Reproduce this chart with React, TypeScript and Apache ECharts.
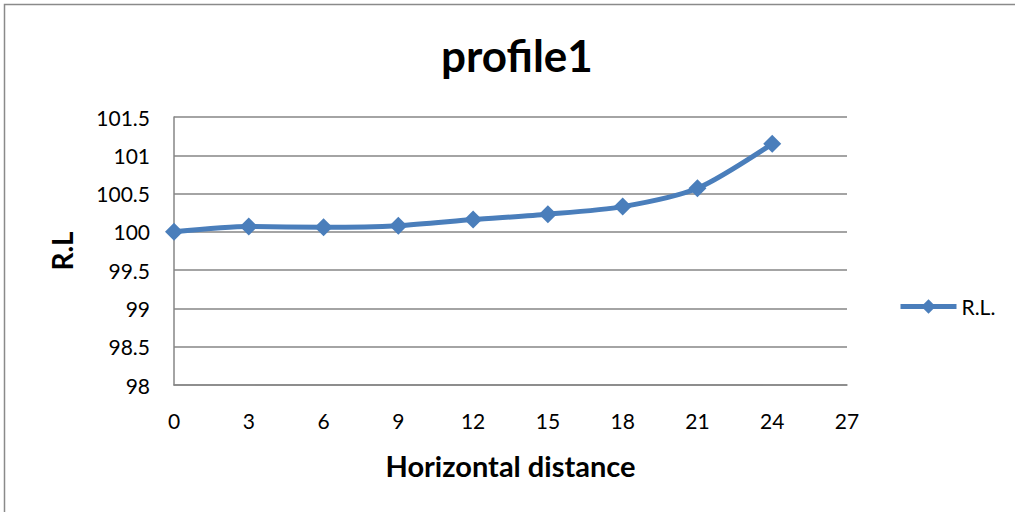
import React, { useEffect, useRef } from "react";
import * as echarts from "echarts";

const distances = [0, 3, 6, 9, 12, 15, 18, 21, 24];
const rlValues = [100.0, 100.07, 100.06, 100.08, 100.16, 100.23, 100.33, 100.57, 101.15];
const seriesName = "R.L.";
const titleText = "profile1";
const xName = "Horizontal distance";
const yName = "R.L";

export default function App() {
  const ref = useRef<HTMLDivElement>(null);
  useEffect(() => {
    if (!ref.current) return;
    const chart = echarts.init(ref.current, null, { renderer: "svg" });
    const font = "Lato, 'Open Sans', sans-serif";
    chart.setOption({
      animation: false,
      backgroundColor: "#ffffff",
      textStyle: { fontFamily: font },
      title: {
        text: titleText,
        left: 436,
        top: 28,
        textStyle: { fontSize: 44, fontWeight: "bold", color: "#000", fontFamily: font },
      },
      graphic: [
        {
          type: "rect",
          shape: { x: 4.5, y: 4.5, width: 1030, height: 530 },
          style: { fill: "none", stroke: "#8a8a8a", lineWidth: 1.5 },
          silent: true,
        },
      ],
      legend: {
        data: [seriesName],
        left: 893,
        top: 291,
        itemWidth: 56,
        itemHeight: 18,
        itemGap: 6,
        lineStyle: { width: 5 },
        textStyle: { fontSize: 21, color: "#000", fontFamily: font },
      },
      grid: { left: 174, right: 168, top: 117, bottom: 127 },
      xAxis: {
        type: "value",
        min: 0,
        max: 27,
        interval: 3,
        name: xName,
        nameLocation: "middle",
        nameGap: 66,
        nameTextStyle: { fontSize: 29, fontWeight: "bold", color: "#000", fontFamily: font },
        axisLine: { show: true, lineStyle: { color: "#868686", width: 1.5 } },
        axisTick: { show: false },
        splitLine: { show: false },
        axisLabel: { fontSize: 21, color: "#000", margin: 25, fontFamily: font },
      },
      yAxis: {
        type: "value",
        min: 98,
        max: 101.5,
        interval: 0.5,
        name: yName,
        nameLocation: "middle",
        nameGap: 98,
        nameRotate: 90,
        nameTextStyle: { fontSize: 28, fontWeight: "bold", color: "#000", fontFamily: font },
        axisLine: { show: true, lineStyle: { color: "#868686", width: 1.5 } },
        axisTick: { show: false },
        splitLine: { show: true, lineStyle: { color: "#868686", width: 1.5 } },
        axisLabel: { fontSize: 21, color: "#000", margin: 24, fontFamily: font },
      },
      series: [
        {
          name: seriesName,
          type: "line",
          data: distances.map((d, i) => [d, rlValues[i]]),
          smooth: 0.25,
          symbol: "diamond",
          symbolSize: 18,
          lineStyle: { color: "#4a7ebb", width: 5 },
          itemStyle: { color: "#4a7ebb" },
        },
      ],
    });
    return () => chart.dispose();
  }, []);
  return (
    <div
      ref={ref}
      style={{ position: "fixed", left: 0, top: 0, width: 1015, height: 512 }}
    />
  );
}
